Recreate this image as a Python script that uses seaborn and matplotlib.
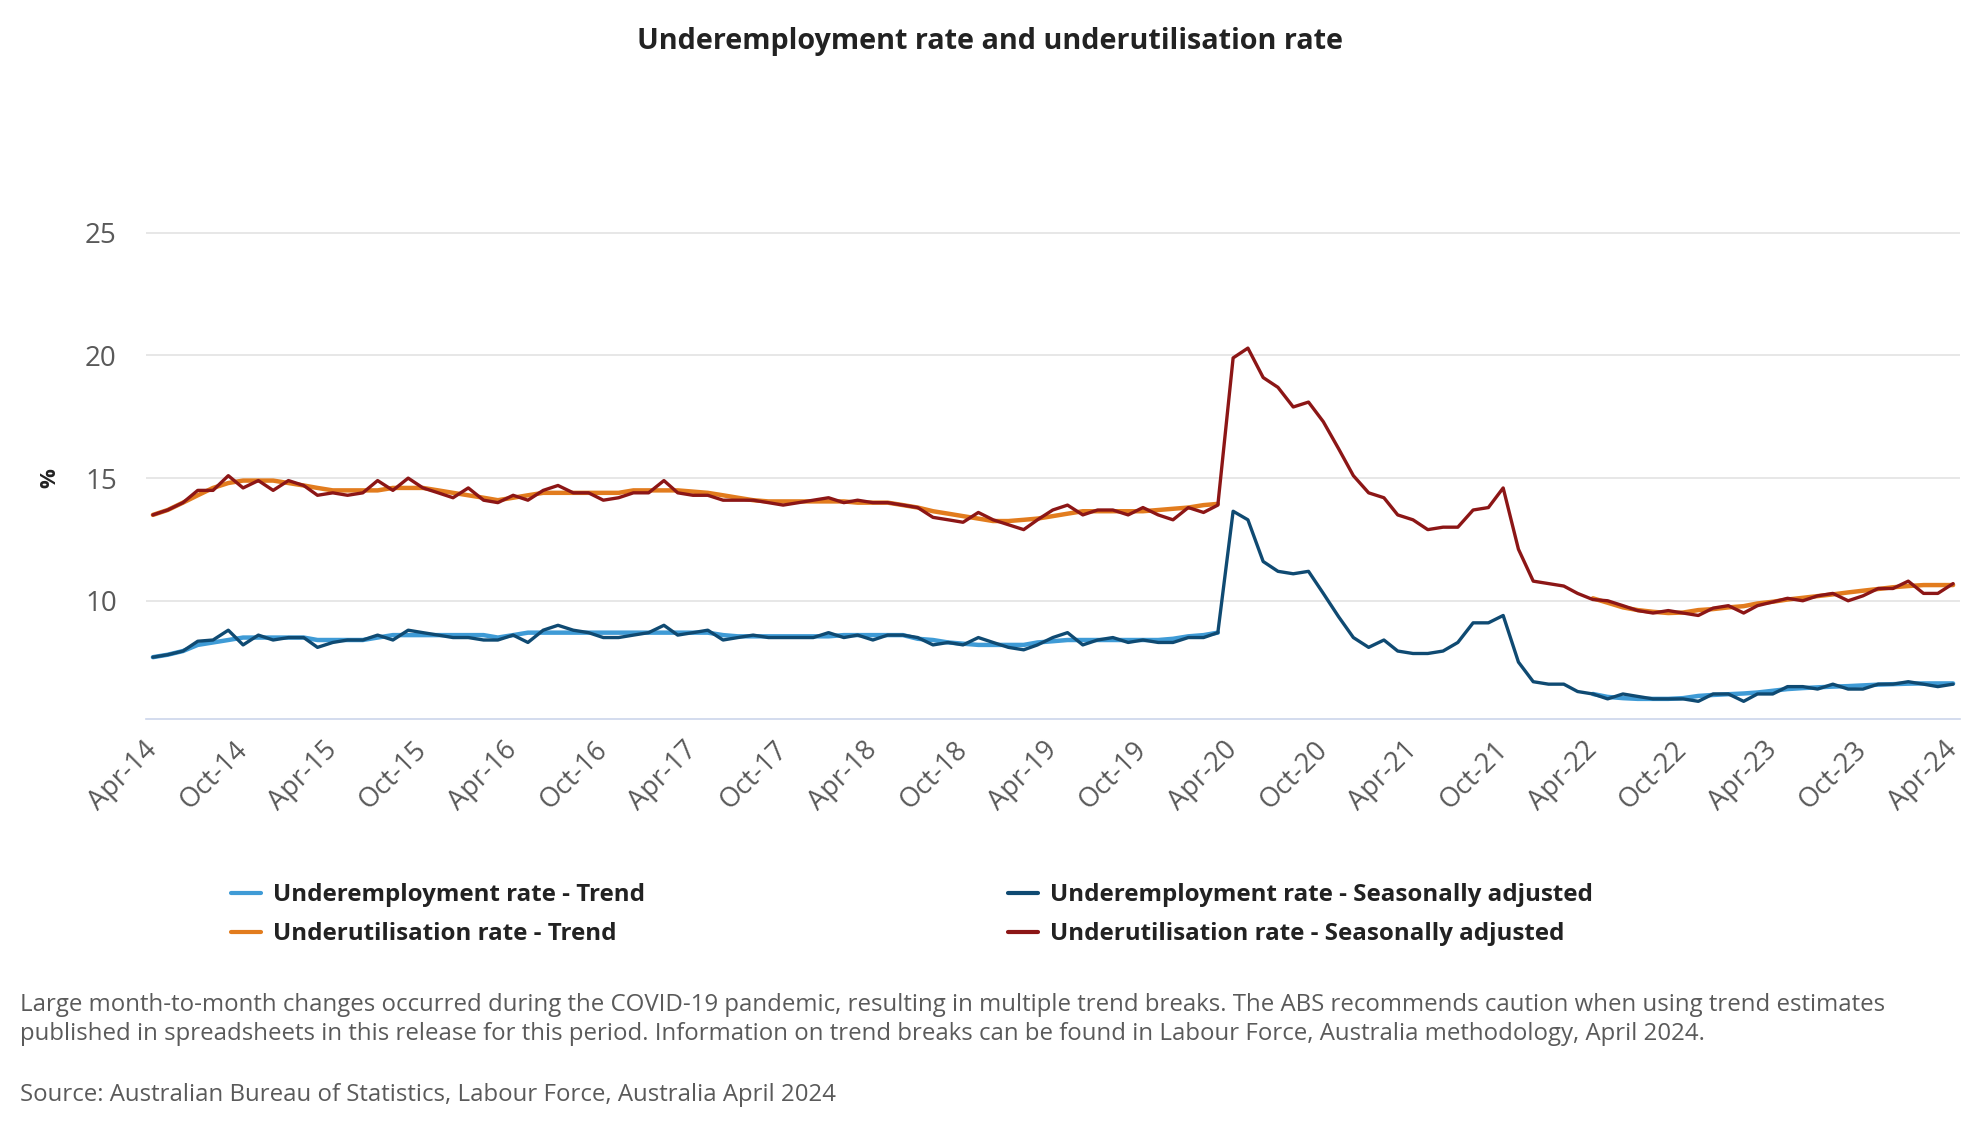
import numpy as np
import pandas as pd
import matplotlib
matplotlib.use('Agg')
import matplotlib.pyplot as plt
import seaborn as sns
from matplotlib.lines import Line2D

# monthly, Apr-14 .. Apr-24
months = pd.date_range('2014-04-01', '2024-04-01', freq='MS')

# seasonally adjusted series (%), Apr-14 .. Apr-24
underemp_sa = [7.7, 7.8, 7.95, 8.35, 8.4, 8.8, 8.2, 8.6, 8.4, 8.5, 8.5, 8.1, 8.3, 8.4, 8.4, 8.6, 8.4, 8.8,
               8.7, 8.6, 8.5, 8.5, 8.4, 8.4, 8.6, 8.3, 8.8, 9.0, 8.8, 8.7, 8.5, 8.5, 8.6, 8.7, 9.0, 8.6,
               8.7, 8.8, 8.4, 8.5, 8.6, 8.5, 8.5, 8.5, 8.5, 8.7, 8.5, 8.6, 8.4, 8.6, 8.6, 8.5, 8.2, 8.3,
               8.2, 8.5, 8.3, 8.1, 8.0, 8.2, 8.5, 8.7, 8.2, 8.4, 8.5, 8.3, 8.4, 8.3, 8.3, 8.5, 8.5,
               8.7, 13.65, 13.3, 11.6, 11.2, 11.1, 11.2, 10.3, 9.35, 8.5, 8.1, 8.4, 7.95, 7.85, 7.85, 7.95,
               8.3, 9.1, 9.1, 9.4, 7.5, 6.7, 6.6, 6.6, 6.3, 6.2, 6.0, 6.2, 6.1, 6.0, 6.0, 6.0, 5.9, 6.2,
               6.2, 5.9, 6.2, 6.2, 6.5, 6.5, 6.4, 6.6, 6.4, 6.4, 6.6, 6.6, 6.7, 6.6, 6.5, 6.6]
underutil_sa = [13.5, 13.7, 14.0, 14.5, 14.5, 15.1, 14.6, 14.9, 14.5, 14.9, 14.7, 14.3, 14.4, 14.3, 14.4, 14.9,
                14.5, 15.0, 14.6, 14.4, 14.2, 14.6, 14.1, 14.0, 14.3, 14.1, 14.5, 14.7, 14.4, 14.4, 14.1, 14.2,
                14.4, 14.4, 14.9, 14.4, 14.3, 14.3, 14.1, 14.1, 14.1, 14.0, 13.9, 14.0, 14.1, 14.2, 14.0, 14.1,
                14.0, 14.0, 13.9, 13.8, 13.4, 13.3, 13.2, 13.6, 13.3, 13.1, 12.9, 13.3, 13.7, 13.9, 13.5, 13.7,
                13.7, 13.5, 13.8, 13.5, 13.3, 13.8, 13.6,
                13.9, 19.9, 20.3, 19.1, 18.7, 17.9, 18.1, 17.3, 16.2, 15.1, 14.4, 14.2, 13.5, 13.3, 12.9, 13.0,
                13.0, 13.7, 13.8, 14.6, 12.1, 10.8, 10.7, 10.6, 10.3, 10.05, 10.0, 9.8, 9.6, 9.5, 9.6, 9.5,
                9.4, 9.7, 9.8, 9.5, 9.8, 9.95, 10.1, 10.0, 10.2, 10.3, 10.0, 10.2, 10.5, 10.5, 10.8, 10.3,
                10.3, 10.7]

# trend series: break from Apr-20 to Mar-22 (COVID trend breaks)
underemp_trend_pre = [7.7, 7.8, 7.95, 8.2, 8.3, 8.4, 8.5, 8.5, 8.5, 8.5, 8.5, 8.4, 8.4, 8.4, 8.4, 8.5, 8.6, 8.6,
                      8.6, 8.6, 8.6, 8.6, 8.6, 8.5, 8.6, 8.7, 8.7, 8.7, 8.7, 8.7, 8.7, 8.7, 8.7, 8.7, 8.7, 8.7,
                      8.7, 8.7, 8.6, 8.55, 8.55, 8.55, 8.55, 8.55, 8.55, 8.55, 8.6, 8.6, 8.6, 8.6, 8.6, 8.45,
                      8.4, 8.3, 8.25, 8.2, 8.2, 8.2, 8.2, 8.3, 8.35, 8.4, 8.4, 8.4, 8.4, 8.4, 8.4, 8.4, 8.45,
                      8.55, 8.6, 8.7]
underemp_trend_post = [6.2, 6.08, 6.03, 6.0, 6.0, 6.0, 6.03, 6.12, 6.16, 6.19, 6.22, 6.26, 6.33, 6.4, 6.44,
                       6.47, 6.5, 6.52, 6.55, 6.58, 6.6, 6.62, 6.63, 6.63, 6.63]
underutil_trend_pre = [13.5, 13.7, 14.0, 14.3, 14.6, 14.8, 14.9, 14.9, 14.9, 14.8, 14.7, 14.6, 14.5, 14.5, 14.5,
                       14.5, 14.6, 14.6, 14.6, 14.5, 14.4, 14.3, 14.2, 14.1, 14.2, 14.3, 14.4, 14.4, 14.4, 14.4,
                       14.4, 14.4, 14.5, 14.5, 14.5, 14.5, 14.45, 14.4, 14.3, 14.2, 14.1, 14.05, 14.05, 14.05,
                       14.05, 14.05, 14.05, 14.0, 14.0, 14.0, 13.9, 13.8, 13.65, 13.55, 13.45, 13.35, 13.25,
                       13.25, 13.3, 13.35, 13.45, 13.55, 13.65, 13.65, 13.65, 13.65, 13.65, 13.7, 13.75, 13.8,
                       13.9, 13.95]
underutil_trend_post = [10.1, 9.92, 9.73, 9.62, 9.55, 9.5, 9.52, 9.62, 9.66, 9.73, 9.78, 9.89, 9.96, 10.05,
                        10.12, 10.19, 10.26, 10.34, 10.41, 10.48, 10.55, 10.6, 10.64, 10.64, 10.64]

xtick_dates = months[::6]

names = ['Underemployment rate - Trend', 'Underutilisation rate - Trend',
         'Underemployment rate - Seasonally adjusted', 'Underutilisation rate - Seasonally adjusted']
colors = {names[0]: '#3f9bd6', names[1]: '#e27c1e', names[2]: '#0f4a72', names[3]: '#8c1616'}

n_pre = len(underemp_trend_pre)
n_post = len(underemp_trend_post)
pre_months = months[:n_pre]
post_months = months[-n_post:]

trend = pd.concat([
    pd.DataFrame({'date': pre_months, 'value': underemp_trend_pre, 'series': names[0], 'seg': 'a'}),
    pd.DataFrame({'date': post_months, 'value': underemp_trend_post, 'series': names[0], 'seg': 'b'}),
    pd.DataFrame({'date': pre_months, 'value': underutil_trend_pre, 'series': names[1], 'seg': 'a'}),
    pd.DataFrame({'date': post_months, 'value': underutil_trend_post, 'series': names[1], 'seg': 'b'}),
], ignore_index=True)
sa = pd.concat([
    pd.DataFrame({'date': months, 'value': underemp_sa, 'series': names[2]}),
    pd.DataFrame({'date': months, 'value': underutil_sa, 'series': names[3]}),
], ignore_index=True)

sns.set_style('white')
plt.rcParams['font.family'] = ['Open Sans', 'DejaVu Sans']

fig = plt.figure(figsize=(19.8, 11.4), dpi=100)
ax = fig.add_axes([146 / 1980, 1 - 718.5 / 1140, (1960 - 146) / 1980, (718.5 - 120) / 1140])

sns.lineplot(data=trend, x='date', y='value', hue='series', units='seg', estimator=None,
             palette=colors, linewidth=3.2, legend=False, ax=ax, zorder=2)
sns.lineplot(data=sa, x='date', y='value', hue='series', estimator=None,
             palette=colors, linewidth=2.4, legend=False, ax=ax, zorder=3)

ax.set_xlim(months[0] - pd.Timedelta(days=14), months[-1] + pd.Timedelta(days=14))
ax.set_ylim(5.2, 29.6)
ax.set_yticks([10, 15, 20, 25])
ax.set_xticks(xtick_dates)
ax.set_xticklabels([d.strftime('%b-%y') for d in xtick_dates], rotation=45, ha='right',
                   va='center', rotation_mode='anchor')
ax.tick_params(axis='x', length=0, pad=20, labelsize=19.5, labelcolor='#595959')
ax.tick_params(axis='y', length=0, pad=21, labelsize=20, labelcolor='#595959')
ax.set_xlabel('')
ax.set_ylabel('')
ax.grid(axis='y', color='#e3e3e3', linewidth=1.2)
ax.grid(axis='x', visible=False)
for s in ['top', 'right', 'left']:
    ax.spines[s].set_visible(False)
ax.spines['bottom'].set_color('#ccd6eb')
ax.spines['bottom'].set_linewidth(1.2)

fig.text(50 / 1980, 1 - 478 / 1140, '%', rotation=90, ha='center', va='center',
         fontsize=16, fontweight='bold', color='#222222')

fig.text(0.5, 1 - 41 / 1140, 'Underemployment rate and underutilisation rate', ha='center', va='center',
         fontsize=20.7, fontweight='bold', color='#222222')

handles = [Line2D([0], [0], color=colors[n], linewidth=3) for n in names]
fig.legend(handles, names, ncol=2, loc='upper left', bbox_to_anchor=(219 / 1980, 1 - 871 / 1140),
           frameon=False, borderpad=0, handlelength=1.25, handletextpad=0.5, columnspacing=15.0,
           labelspacing=0.62, prop={'weight': 'bold', 'size': 17.4}, labelcolor='#222222')

note_color = '#5a5a5a'
fig.text(20 / 1980, 1 - 1005 / 1140,
         'Large month-to-month changes occurred during the COVID-19 pandemic, resulting in multiple trend breaks. '
         'The ABS recommends caution when using trend estimates',
         ha='left', va='center', fontsize=17.25, color=note_color)
fig.text(20 / 1980, 1 - 1034 / 1140,
         'published in spreadsheets in this release for this period. Information on trend breaks can be found in '
         'Labour Force, Australia methodology, April 2024.',
         ha='left', va='center', fontsize=17.25, color=note_color)
fig.text(20 / 1980, 1 - 1095 / 1140, 'Source: Australian Bureau of Statistics, Labour Force, Australia April 2024',
         ha='left', va='center', fontsize=17.25, color=note_color)

fig.savefig('out.png', dpi=100, facecolor='white')
